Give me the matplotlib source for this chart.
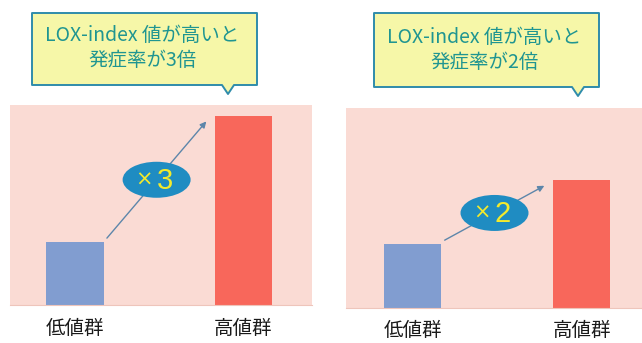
import matplotlib
matplotlib.use("Agg")
import matplotlib.pyplot as plt
from matplotlib.patches import Ellipse, Polygon

plt.rcParams["font.family"] = ["Noto Sans CJK JP", "DejaVu Sans"]

# --- data -----------------------------------------------------------
groups = ["低値群", "高値群"]
left_values = [1, 3]     # 高値群 is 3x the 低値群
right_values = [1, 2]    # 高値群 is 2x the 低値群
left_callout = "LOX-index 値が高いと\n発症率が3倍"
right_callout = "LOX-index 値が高いと\n発症率が2倍"
left_factor = "3"
right_factor = "2"

# --- style ----------------------------------------------------------
BG_PINK = "#fadbd4"
BAR_COLORS = ["#819dd0", "#f8675b"]
ARROW_COLOR = "#5d86aa"
BADGE_FILL = "#1f8cc2"
BADGE_TEXT = "#f4ea2c"
CALLOUT_FILL = "#f6f7a8"
CALLOUT_EDGE = "#2f8cab"
CALLOUT_TEXT = "#1f9591"

W, H = 642, 343
fig = plt.figure(figsize=(W / 100, H / 100), dpi=100)
fig.patch.set_facecolor("white")


def fx(x):
    return x / W


def fy(y):
    return 1 - y / H


def add_callout(box, tip_x, tip_y, text, text_y):
    """Speech bubble with a small pointer under its right side (pixel coords)."""
    x0, y0, x1, y1 = box
    pts = [(x0, y0), (x1, y0), (x1, y1), (tip_x + 6, y1), (tip_x, tip_y),
           (tip_x - 6, y1), (x0, y1)]
    poly = Polygon([(fx(x), fy(y)) for x, y in pts], closed=True,
                   transform=fig.transFigure, facecolor=CALLOUT_FILL,
                   edgecolor=CALLOUT_EDGE, linewidth=1.4, joinstyle="round")
    fig.add_artist(poly)
    fig.text(fx((x0 + x1) / 2 - 2), fy(text_y), text, ha="center", va="center",
             fontsize=14, color=CALLOUT_TEXT, linespacing=1.3)


def add_panel(rect, values, xlim, ytop, factor):
    x0, y0, x1, y1 = rect
    ax = fig.add_axes([fx(x0), fy(y1), (x1 - x0) / W, (y1 - y0) / H])
    ax.set_facecolor(BG_PINK)
    pos = list(range(len(values)))
    ax.bar(pos, values, width=0.34, color=BAR_COLORS, zorder=2)
    ax.set_xlim(*xlim)
    ax.set_ylim(0, ytop)
    ax.set_yticks([])
    ax.set_xticks(pos)
    ax.set_xticklabels(groups, fontsize=14, color="#1a1a1a")
    ax.tick_params(axis="x", length=0, pad=9)
    for side in ("top", "left", "right"):
        ax.spines[side].set_visible(False)
    ax.spines["bottom"].set_color("#eec5bb")
    ax.spines["bottom"].set_linewidth(0.8)

    # growth arrow from the low bar to the high bar
    start = (0.19, values[0] + 0.06)
    end = (0.78, values[1] - 0.09)
    ax.annotate("", xy=end, xytext=start,
                arrowprops=dict(arrowstyle="-|>", color=ARROW_COLOR, lw=1.0,
                                mutation_scale=9, shrinkA=0, shrinkB=0),
                zorder=3)

    # badge at the middle of the arrow
    mid = ((start[0] + end[0]) / 2, (start[1] + end[1]) / 2)
    px, py = ax.transData.transform(mid)
    to_fig = fig.transFigure.inverted()
    cx, cy = to_fig.transform((px, py))
    fig.add_artist(Ellipse((cx, cy), 68 / W, 36 / H, transform=fig.transFigure,
                           facecolor=BADGE_FILL, edgecolor="none"))
    tx, ty = to_fig.transform((px - 13, py))
    fig.text(tx, ty, "×", ha="center", va="center", fontsize=15,
             color=BADGE_TEXT, family=["DejaVu Sans"])
    dx, dy = to_fig.transform((px + 8, py - 1))
    fig.text(dx, dy, factor, ha="center", va="center", fontsize=21,
             color=BADGE_TEXT, family=["Liberation Sans"])
    return ax


add_panel((10, 105, 312, 305), left_values, (-0.385, 1.407), 3.17, left_factor)
add_panel((346, 108, 642, 308), right_values, (-0.394, 1.358), 3.125, right_factor)

add_callout((32, 13, 257, 85), 228, 94, left_callout, 48)
add_callout((374, 13, 599, 87), 578, 96, right_callout, 50)

fig.savefig("out.png", dpi=100)
